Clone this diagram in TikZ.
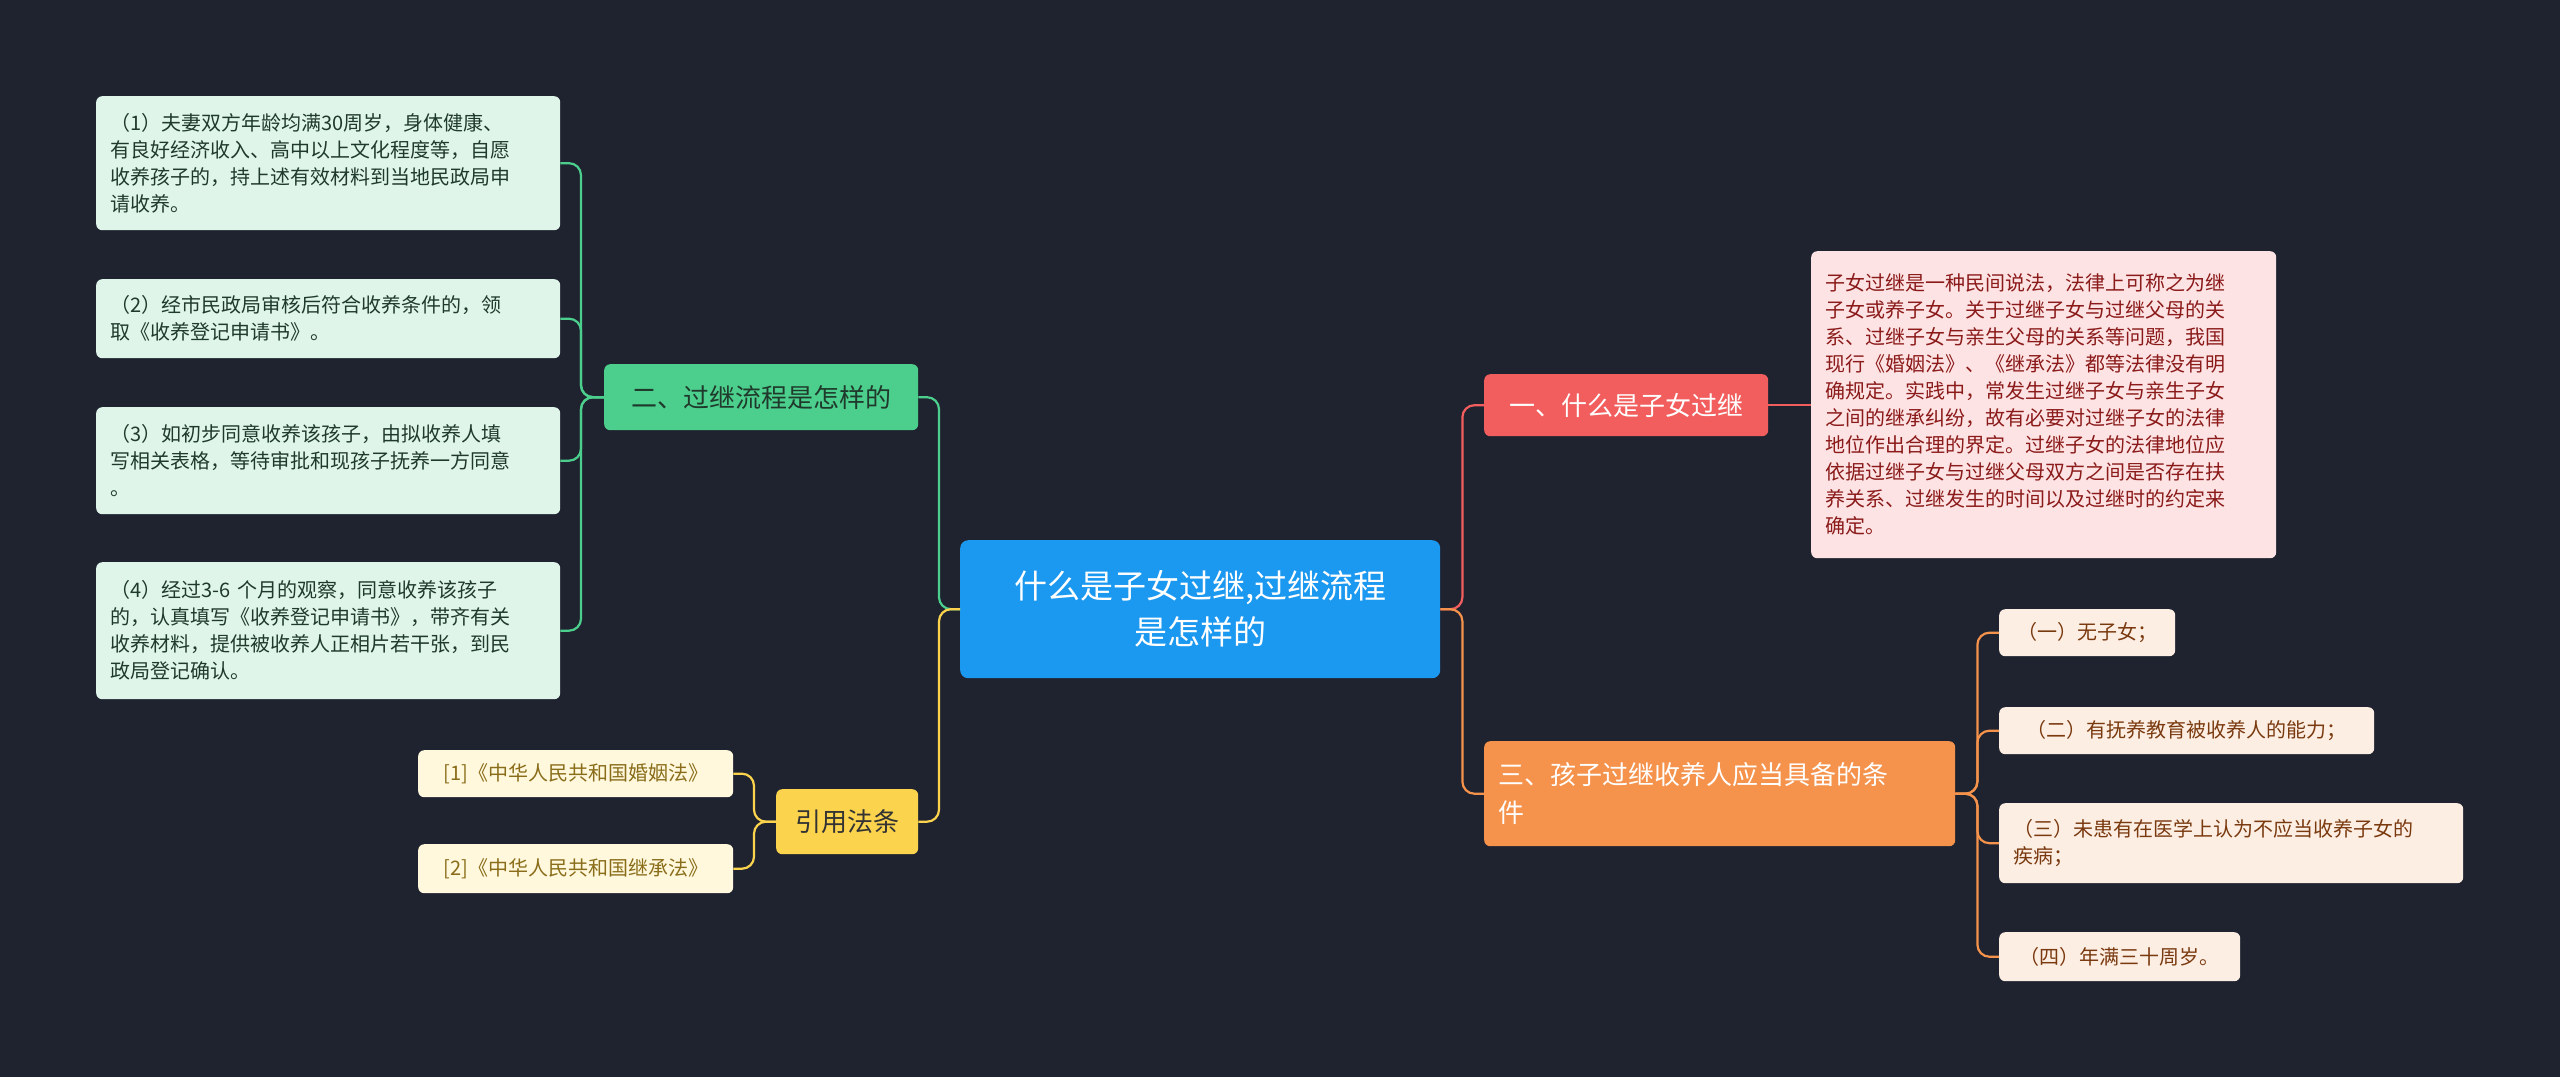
\documentclass[tikz,border=0pt]{standalone}
\usepackage{fontspec}
\setmainfont{Noto Sans CJK SC}
\definecolor{bg}{HTML}{1F2330}
\definecolor{cblue}{HTML}{1B98F0}
\definecolor{cred}{HTML}{F25D5D}
\definecolor{credl}{HTML}{FDE3E3}
\definecolor{credt}{HTML}{8B1A1A}
\definecolor{corg}{HTML}{F5924B}
\definecolor{corgl}{HTML}{FDEEE3}
\definecolor{corgt}{HTML}{7A3A10}
\definecolor{cgrn}{HTML}{4CCF8C}
\definecolor{cgrnl}{HTML}{DFF5EA}
\definecolor{cgrnt}{HTML}{1F3A2C}
\definecolor{cyel}{HTML}{FCD34D}
\definecolor{cyell}{HTML}{FFF8DC}
\definecolor{cyelt}{HTML}{8A6D1A}
\begin{document}
\begin{tikzpicture}[x=1pt,y=-1pt,
  bx/.style={rounded corners=6pt,anchor=north west,inner xsep=14pt,inner ysep=6pt,align=left,font=\fontsize{20}{27}\selectfont},
  gl/.style={bx,fill=cgrnl,text=cgrnt},
  ol/.style={bx,fill=corgl,text=corgt},
  yl/.style={bx,fill=cyell,text=cyelt},
  br/.style={rounded corners=6pt,anchor=north west,inner xsep=14pt,align=left,font=\fontsize{26}{34}\selectfont},
  ln/.style={line width=2.2pt,rounded corners=12pt}]
\useasboundingbox (0,0) rectangle (2560,1077);
\fill[bg] (0,0) rectangle (2560,1077);

\node[rounded corners=8pt,fill=cblue,text=white,anchor=north west,minimum width=480,minimum height=138,align=center,font=\fontsize{33}{46}\selectfont] (c) at (960,540) {什么是子女过继,过继流程\\是怎样的};

\node[br,fill=cred,text=white,minimum width=284,minimum height=62] (r1) at (1484,374) {一、什么是子女过继};
\node[bx,fill=credl,text=credt,text width=437,minimum height=307] (rt) at (1811,251) {子女过继是一种民间说法，法律上可称之为继\\子女或养子女。关于过继子女与过继父母的关\\系、过继子女与亲生父母的关系等问题，我国\\现行《婚姻法》、《继承法》都等法律没有明\\确规定。实践中，常发生过继子女与亲生子女\\之间的继承纠纷，故有必要对过继子女的法律\\地位作出合理的界定。过继子女的法律地位应\\依据过继子女与过继父母双方之间是否存在扶\\养关系、过继发生的时间以及过继时的约定来\\确定。};

\node[br,fill=corg,text=white,text width=443,minimum height=105,font=\fontsize{26}{38}\selectfont] (r3) at (1484,741) {三、孩子过继收养人应当具备的条\\件};
\node[ol,minimum width=176,minimum height=47] (o1) at (1999,609) {（一）无子女；};
\node[ol,minimum width=375,minimum height=47] (o2) at (1999,707) {（二）有抚养教育被收养人的能力；};
\node[ol,text width=436,minimum height=80] (o3) at (1999,803) {（三）未患有在医学上认为不应当收养子女的\\疾病；};
\node[ol,minimum width=241,minimum height=49] (o4) at (1999,932) {（四）年满三十周岁。};

\node[br,fill=cgrn,text=cgrnt,minimum width=314,minimum height=66] (l2) at (604,364) {二、过继流程是怎样的};
\node[gl,text width=436,minimum height=134] (g1) at (96,96) {（1）夫妻双方年龄均满30周岁，身体健康、\\有良好经济收入、高中以上文化程度等，自愿\\收养孩子的，持上述有效材料到当地民政局申\\请收养。};
\node[gl,text width=436,minimum height=79] (g2) at (96,279) {（2）经市民政局审核后符合收养条件的，领\\取《收养登记申请书》。};
\node[gl,text width=436,minimum height=107] (g3) at (96,407) {（3）如初步同意收养该孩子，由拟收养人填\\写相关表格，等待审批和现孩子抚养一方同意\\。};
\node[gl,text width=436,minimum height=137] (g4) at (96,562) {（4）经过3-6 个月的观察，同意收养该孩子\\的，认真填写《收养登记申请书》，带齐有关\\收养材料，提供被收养人正相片若干张，到民\\政局登记确认。};

\node[br,fill=cyel,text=black!80,minimum width=142,minimum height=65] (ly) at (776,789) {引用法条};
\node[yl,minimum width=315,minimum height=47] (y1) at (418,750) {[1]《中华人民共和国婚姻法》};
\node[yl,minimum width=315,minimum height=49] (y2) at (418,844) {[2]《中华人民共和国继承法》};

\draw[ln,cred] (c.east) -- ++(22,0) |- (r1.west);
\draw[ln,corg] (c.east) -- ++(22,0) |- (r3.west);
\draw[ln,cred] (r1.east) -- (rt.west |- r1.east);
\foreach \n in {o1,o2,o3,o4} \draw[ln,corg] (r3.east -| 1955,0) ++(0,0) (r3.east) -- ++(22,0) |- (\n.west);
\draw[ln,cgrn] (c.west) -- ++(-21,0) |- (l2.east);
\draw[ln,cyel] (c.west) -- ++(-21,0) |- (ly.east);
\foreach \n in {g1,g2,g3,g4} \draw[ln,cgrn] (l2.west) -- ++(-23,0) |- (\n.east);
\foreach \n in {y1,y2} \draw[ln,cyel] (ly.west) -- ++(-22,0) |- (\n.east);
\end{tikzpicture}
\end{document}
